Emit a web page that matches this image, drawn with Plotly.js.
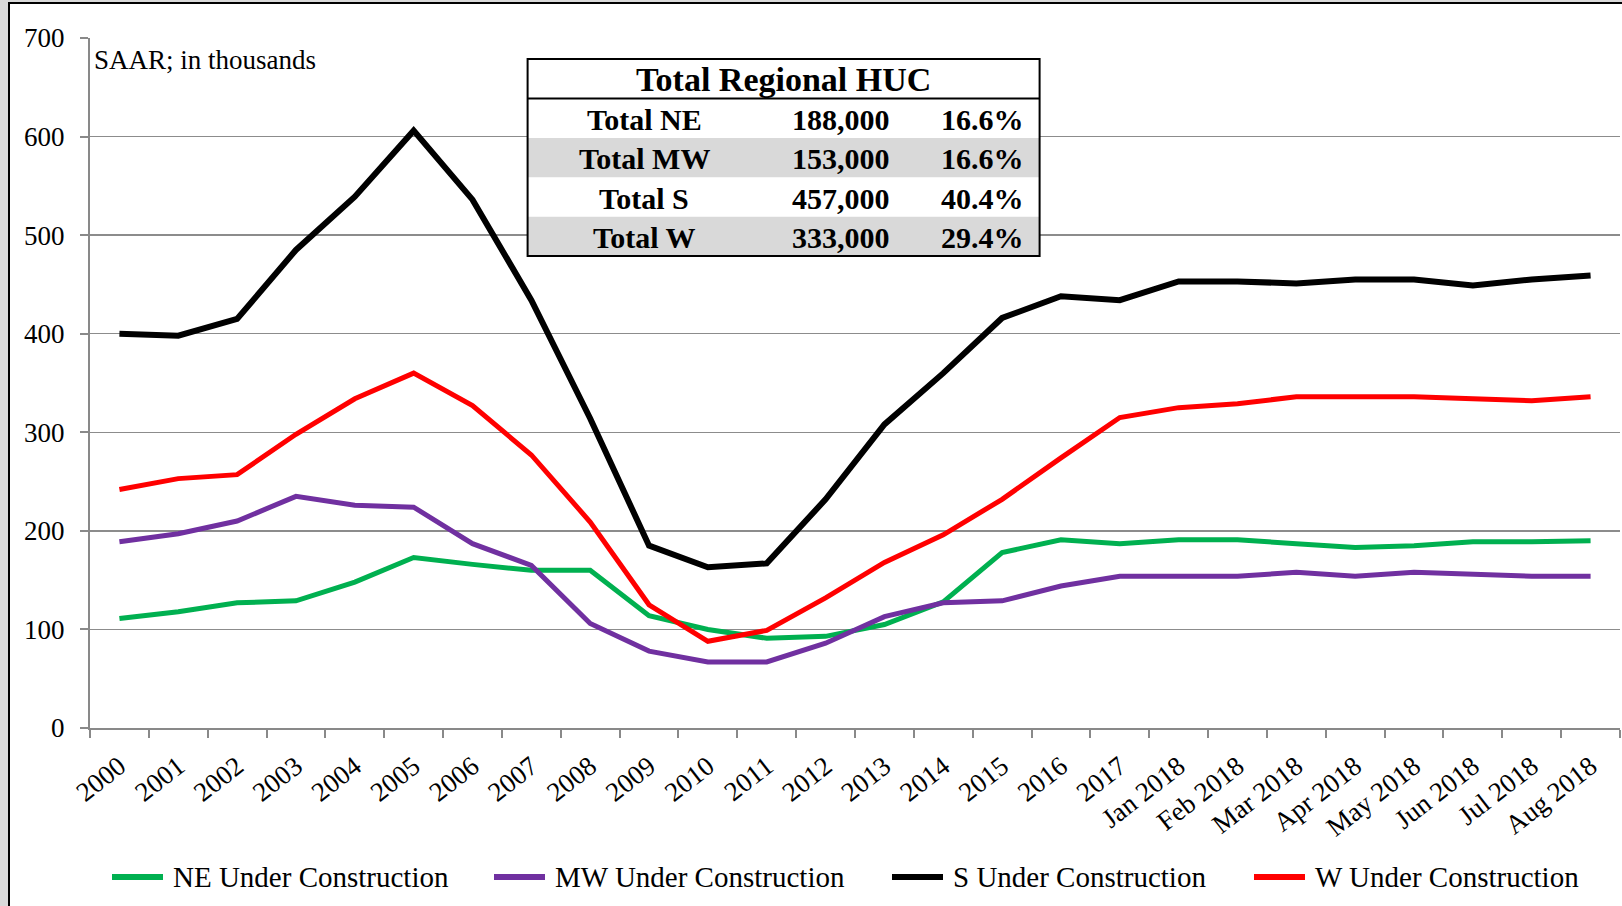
<!DOCTYPE html>
<html>
<head>
<meta charset="utf-8">
<script src="https://cdn.plot.ly/plotly-3.0.1.min.js"></script>
<style>
  html, body { margin: 0; padding: 0; }
  body { width: 1622px; height: 906px; background: #d9d9d9; position: relative; overflow: hidden; }
  #frame { position: absolute; left: 8px; top: 2px; width: 1614px; height: 904px;
           border-left: 2px solid #000; border-top: 2px solid #000; background: #fff; box-sizing: border-box; }
  #chart { width: 1612px; height: 902px; }
</style>
</head>
<body>
<div id="frame"><div id="chart"></div></div>
<script>
// ---- data ----
const categories = ['2000','2001','2002','2003','2004','2005','2006','2007','2008','2009',
  '2010','2011','2012','2013','2014','2015','2016','2017',
  'Jan 2018','Feb 2018','Mar 2018','Apr 2018','May 2018','Jun 2018','Jul 2018','Aug 2018'];

const neValues = [111,118,127,129,148,173,166,160,160,114,100,91,93,105,128,178,191,187,
  191,191,187,183,185,189,189,190];
const mwValues = [189,197,210,235,226,224,187,165,106,78,67,67,86,113,127,129,144,154,
  154,154,158,154,158,156,154,154];
const sValues = [400,398,415,485,539,606,536,434,314,185,163,167,232,308,360,416,438,434,
  453,453,451,455,455,449,455,459];
const wValues = [242,253,257,298,334,360,327,277,209,125,88,99,132,168,196,232,274,315,
  325,329,336,336,336,334,332,336];

const seriesNames = ['NE Under Construction','MW Under Construction','S Under Construction','W Under Construction'];

const tableTitle = 'Total Regional HUC';
const tableRegions = ['Total NE','Total MW','Total S','Total W'];
const tableTotals = ['188,000','153,000','457,000','333,000'];
const tableShares = ['16.6%','16.6%','40.4%','29.4%'];

const yTicks = [0,100,200,300,400,500,600,700];
const unitNote = 'SAAR; in thousands';

// ---- layout helpers (page pixel -> paper) ----
const FRAME_X = 10, FRAME_Y = 4;
const M = {l: 80, r: 2, t: 34, b: 178};
const PW = 1612 - M.l - M.r, PH = 902 - M.t - M.b;
const px2x = X => (X - FRAME_X - M.l) / PW;
const px2y = Y => 1 - (Y - FRAME_Y - M.t) / PH;

const serif = '"Liberation Serif", "Times New Roman", serif';
const colors = ['#00b050', '#7030a0', '#000000', '#ff0000'];
const widths = [5, 5, 6, 5];
const allValues = [neValues, mwValues, sValues, wValues];

const traces = allValues.map((vals, i) => ({
  type: 'scatter', mode: 'lines', x: categories, y: vals, name: seriesNames[i],
  line: {color: colors[i], width: widths[i]}, hoverinfo: 'x+y+name', showlegend: false
}));

const shapes = [];
const annotations = [];

// ---- legend (drawn manually to match the spacing) ----
const legendLineX = [112, 494, 892, 1254];   // page px, start of each legend swatch
const legendY = 877, swatchLen = 51, swatchGap = 8;
seriesNames.forEach((name, i) => {
  const x0 = legendLineX[i];
  shapes.push({type:'line', xref:'paper', yref:'paper', x0:px2x(x0), x1:px2x(x0+swatchLen),
    y0:px2y(legendY), y1:px2y(legendY), line:{color:colors[i], width:6}});
  annotations.push({xref:'paper', yref:'paper', x:px2x(x0+swatchLen+swatchGap), y:px2y(legendY),
    xanchor:'left', yanchor:'middle', text:name, showarrow:false,
    font:{family:serif, size:29, color:'#000'}});
});

// ---- table overlay ----
const tL = 527.6, tR = 1039.6, tTop = 59, hBot = 98.5, rowH = 39.4;
const tBot = hBot + rowH*tableRegions.length;
shapes.push({type:'rect', xref:'paper', yref:'paper', x0:px2x(tL), x1:px2x(tR), y0:px2y(tTop), y1:px2y(tBot),
  fillcolor:'#ffffff', line:{width:0}, layer:'above'});
tableRegions.forEach((r, i) => {
  const y0 = hBot + rowH*i, y1 = y0 + rowH;
  if (i % 2 === 1) {
    shapes.push({type:'rect', xref:'paper', yref:'paper', x0:px2x(tL), x1:px2x(tR), y0:px2y(y0), y1:px2y(y1),
      fillcolor:'#d9d9d9', line:{width:0}, layer:'above'});
  }
  const yc = px2y((y0 + y1)/2 + 1);
  [[tableRegions[i], 644], [tableTotals[i], 841], [tableShares[i], 982]].forEach(([txt, cx]) => {
    annotations.push({xref:'paper', yref:'paper', x:px2x(cx), y:yc, xanchor:'center', yanchor:'middle',
      text:'<b>'+txt+'</b>', showarrow:false, font:{family:serif, size:30, color:'#000'}});
  });
});
shapes.push({type:'line', xref:'paper', yref:'paper', x0:px2x(tL), x1:px2x(tR), y0:px2y(hBot), y1:px2y(hBot),
  line:{color:'#000', width:2}, layer:'above'});
shapes.push({type:'rect', xref:'paper', yref:'paper', x0:px2x(tL), x1:px2x(tR), y0:px2y(tTop), y1:px2y(tBot),
  line:{color:'#000', width:2}, layer:'above'});
annotations.push({xref:'paper', yref:'paper', x:px2x((tL+tR)/2), y:px2y((tTop+hBot)/2 + 1), xanchor:'center', yanchor:'middle',
  text:'<b>'+tableTitle+'</b>', showarrow:false, font:{family:serif, size:34, color:'#000'}});

annotations.push({xref:'paper', yref:'paper', x:px2x(92), y:px2y(60), xanchor:'left', yanchor:'middle',
  text:unitNote, showarrow:false, font:{family:serif, size:27, color:'#000'}});

const layout = {
  width: 1612, height: 902,
  margin: M,
  paper_bgcolor: '#ffffff', plot_bgcolor: '#ffffff',
  font: {family: serif, color: '#000'},
  showlegend: false,
  xaxis: {type:'category', categoryorder:'array', categoryarray: categories, automargin:false,
    showgrid:false, showline:true, linecolor:'#898989', linewidth:2,
    ticks:'outside', tickson:'boundaries', ticklen:8, tickwidth:2, tickcolor:'#898989', ticklabelstandoff: 10,
    tickangle:-38, tickfont:{family:serif, size:27, color:'#000'}, range:[-0.5, categories.length-0.5], fixedrange:true},
  yaxis: {range:[0,700], tickvals: yTicks, showgrid:true, gridcolor:'#8c8c8c', gridwidth:1.5, automargin:false,
    showline:true, linecolor:'#898989', linewidth:2, ticks:'outside', ticklen:8, tickwidth:2, tickcolor:'#898989',
    ticklabelstandoff: 10, zeroline:false, tickfont:{family:serif, size:27, color:'#000'}, fixedrange:true},
  shapes, annotations
};

Plotly.newPlot('chart', traces, layout, {displayModeBar:false, staticPlot:true});
</script>
</body>
</html>
